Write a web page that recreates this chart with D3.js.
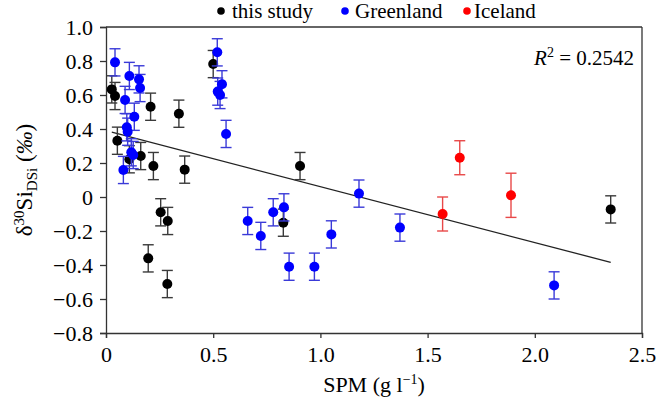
<!DOCTYPE html>
<html><head><meta charset="utf-8">
<script src="https://cdn.jsdelivr.net/npm/d3@7"></script>
<style>body{margin:0;background:#fff}</style>
</head><body><svg id="c" width="657" height="405"></svg>
<script>
// [SPM, delta30Si]
const thisStudy = [[0.027,0.633],[0.042,0.594],[0.208,0.531],[0.340,0.490],[0.500,0.782],[0.053,0.331],
  [0.109,0.222],[0.162,0.241],[0.221,0.182],[0.367,0.161],[0.255,-0.090],[0.288,-0.141],[0.197,-0.361],
  [0.286,-0.512],[0.827,-0.151],[0.905,0.182],[2.354,-0.073]];
const thisStudyErr = [0.08,0.08,0.08,0.08,0.08,0.08,0.08,0.08,0.08,0.08,0.08,0.08,0.08,0.08,0.08,0.08,0.08];
const greenland = [[0.042,0.792],[0.109,0.712],[0.154,0.692],[0.159,0.641],[0.089,0.571],[0.132,0.472],
  [0.097,0.410],[0.101,0.384],[0.118,0.263],[0.127,0.247],[0.081,0.159],[0.519,0.851],[0.541,0.663],
  [0.521,0.620],[0.532,0.600],[0.560,0.371],[0.661,-0.141],[0.722,-0.229],[0.780,-0.090],[0.830,-0.061],
  [0.854,-0.410],[0.972,-0.410],[1.051,-0.220],[1.180,0.020],[1.371,-0.180],[2.090,-0.520]];
const greenlandErr = greenland.map(() => 0.08);
const iceland = [[1.570,-0.100],[1.650,0.231],[1.889,0.010]];
const icelandErr = [0.10,0.10,0.13];
// regression line: [intercept, slope, xStart, xEnd]
const fit = [0.39, -0.329, 0.027, 2.354];
const r2Label = "0.2542";
const xTicks = [0,0.5,1.0,1.5,2.0,2.5];
const yTicks = [-0.8,-0.6,-0.4,-0.2,0,0.2,0.4,0.6,0.8,1.0];
const legendNames = ["this study","Greenland","Iceland"];

const FONT='Liberation Serif';
const W=657,H=405, m={l:106,r:15,t:27,b:72};
const svg=d3.select("#c");
const x=d3.scaleLinear().domain([0,2.5]).range([m.l,W-m.r]);
const y=d3.scaleLinear().domain([-0.8,1.0]).range([H-m.b,m.t]);
const fmt=d=> d===0?"0":d3.format(".1f")(d);
const axisCol="#333";

const gx=svg.append("g").attr("transform",`translate(0,${H-m.b})`)
  .call(d3.axisBottom(x).tickValues(xTicks).tickFormat(fmt).tickSizeOuter(0).tickSize(5).tickPadding(8));
const gy=svg.append("g").attr("transform",`translate(${m.l},0)`)
  .call(d3.axisLeft(y).tickValues(yTicks).tickFormat(fmt).tickSizeOuter(0).tickSize(6).tickPadding(7));
[gx,gy].forEach(g=>{g.attr("font-family",FONT).attr("font-size",22);
  g.selectAll("path,line").attr("stroke",axisCol).attr("stroke-width",1.3);
  g.selectAll("text").attr("font-family",FONT).attr("font-size",22).attr("fill","#000");});
// top & right frame
svg.append("line").attr("x1",x(0)).attr("x2",x(2.5)).attr("y1",y(1)).attr("y2",y(1)).attr("stroke",axisCol).attr("stroke-width",1.3);
svg.append("line").attr("x1",x(2.5)).attr("x2",x(2.5)).attr("y1",y(1)).attr("y2",y(-0.8)).attr("stroke",axisCol).attr("stroke-width",1.3);

// regression
svg.append("line").attr("x1",x(fit[2])).attr("y1",y(fit[0]+fit[1]*fit[2]))
  .attr("x2",x(fit[3])).attr("y2",y(fit[0]+fit[1]*fit[3])).attr("stroke","#222").attr("stroke-width",1.3);

const series=[
  {d:thisStudy,e:thisStudyErr,c:"#000",ec:"#3a3a3a"},
  {d:greenland,e:greenlandErr,c:"#0000ff",ec:"#3a3ad8"},
  {d:iceland,e:icelandErr,c:"#ff0000",ec:"#e84848"}];
series.forEach(s=>{
  const g=svg.append("g");
  s.d.forEach((p,i)=>{
    const px=x(p[0]), e=s.e[i];
    g.append("line").attr("x1",px).attr("x2",px).attr("y1",y(p[1]-e)).attr("y2",y(p[1]+e)).attr("stroke",s.ec).attr("stroke-width",1.4);
    [p[1]-e,p[1]+e].forEach(v=>g.append("line").attr("x1",px-5.5).attr("x2",px+5.5).attr("y1",y(v)).attr("y2",y(v)).attr("stroke",s.ec).attr("stroke-width",1.4));
  });
  s.d.forEach(p=>g.append("circle").attr("cx",x(p[0])).attr("cy",y(p[1])).attr("r",5).attr("fill",s.c));
});

// legend
const lg=[{dx:221,tx:232},{dx:345,tx:355},{dx:467,tx:474}];
legendNames.forEach((n,i)=>{
  svg.append("circle").attr("cx",lg[i].dx).attr("cy",11).attr("r",3.8).attr("fill",series[i].c);
  svg.append("text").attr("x",lg[i].tx).attr("y",18).attr("font-family",FONT).attr("font-size",21).text(n);
});

// R2
const rt=svg.append("text").attr("x",634).attr("y",65).attr("text-anchor","end").attr("font-family",FONT).attr("font-size",21);
rt.append("tspan").attr("font-style","italic").text("R");
rt.append("tspan").attr("dy",-8).attr("font-size",14).text("2");
rt.append("tspan").attr("dy",8).text(" = "+r2Label);

// x title
const xt=svg.append("text").attr("x",374).attr("y",392).attr("text-anchor","middle").attr("font-family",FONT).attr("font-size",22);
xt.append("tspan").text("SPM (g l");
xt.append("tspan").attr("dy",-8).attr("font-size",14).text("\u22121");
xt.append("tspan").attr("dy",8).text(")");

// y title
const yt=svg.append("text").attr("transform",`translate(32,${(y(1)+y(-0.8))/2}) rotate(-90)`).attr("text-anchor","middle").attr("font-family",FONT).attr("font-size",23);
yt.append("tspan").text("\u03b4");
yt.append("tspan").attr("dy",-8).attr("font-size",15).text("30");
yt.append("tspan").attr("dy",8).text("Si");
yt.append("tspan").attr("dy",5).attr("font-size",15).text("DSi");
yt.append("tspan").attr("dy",-5).text(" (");
yt.append("tspan").attr("font-style","italic").text("\u2030");
yt.append("tspan").text(")");
</script></body></html>
